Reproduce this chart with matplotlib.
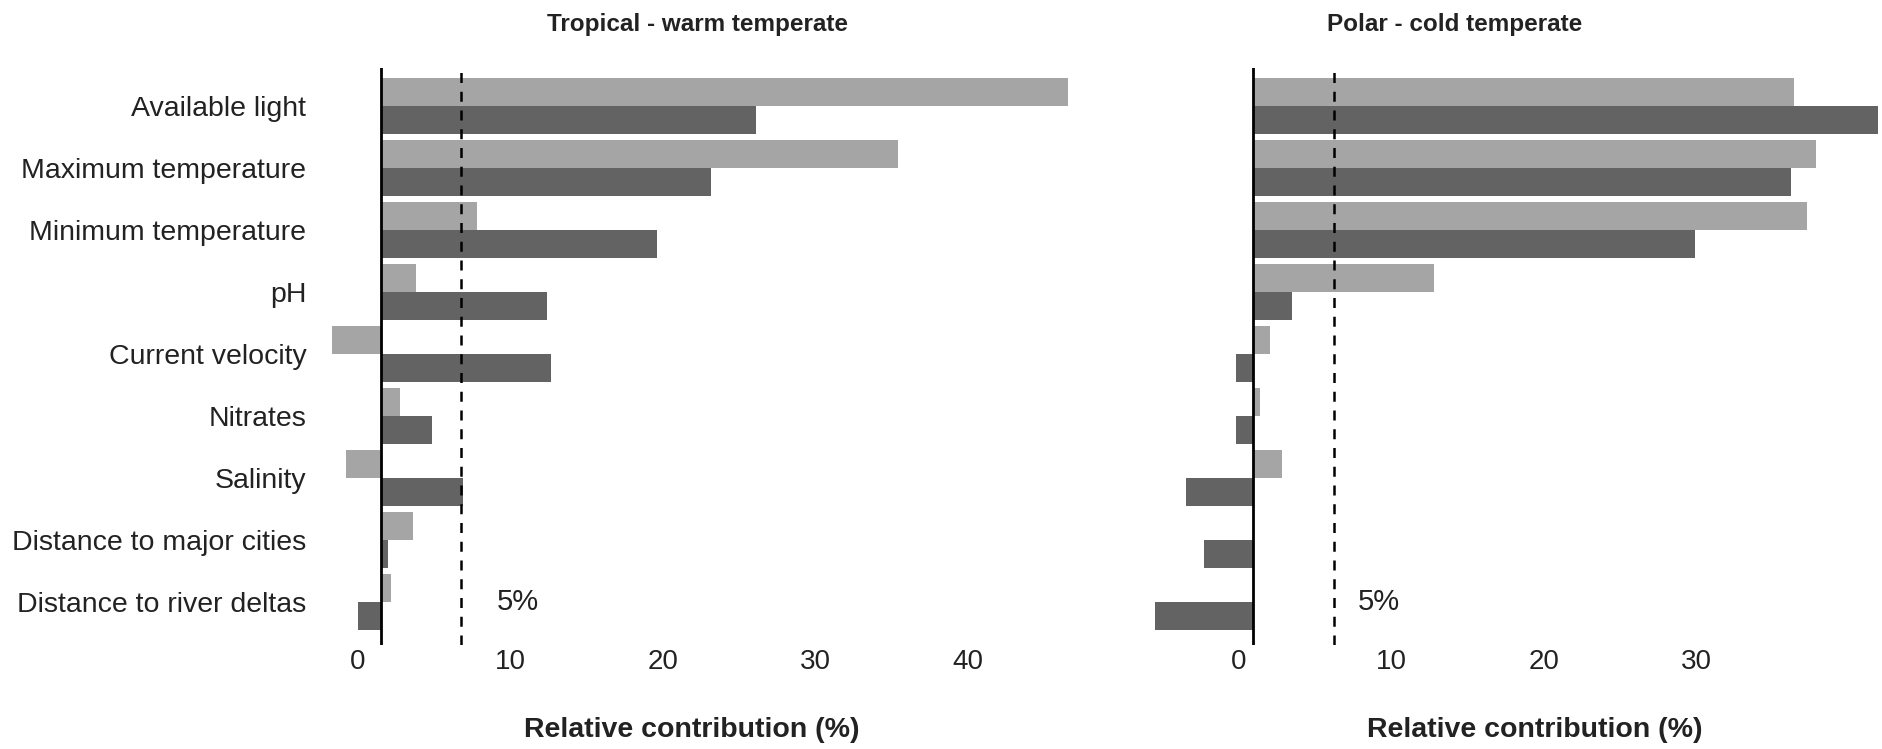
import matplotlib
matplotlib.use("Agg")
import matplotlib.pyplot as plt
import matplotlib.transforms as mtransforms
from matplotlib import font_manager
import numpy as np

plt.rcParams['font.family'] = ['Liberation Sans', 'DejaVu Sans']

# predictors, top to bottom
predictors = ["Available light", "Maximum temperature", "Minimum temperature", "pH",
              "Current velocity", "Nitrates", "Salinity",
              "Distance to major cities", "Distance to river deltas"]

# relative contribution (%) - light and dark bar of each pair
tropical_light = [45.1, 33.9, 6.3, 2.3, -3.2, 1.3, -2.3, 2.1, 0.7]
tropical_dark = [24.6, 21.7, 18.1, 10.9, 11.2, 3.4, 5.4, 0.5, -1.5]
polar_light = [35.5, 36.9, 36.3, 11.9, 1.1, 0.5, 1.9, 0.0, 0.0]
polar_dark = [41.0, 35.3, 29.0, 2.6, -1.1, -1.1, -4.4, -3.2, -6.4]

threshold = 5.3   # the "5%" dashed line as drawn
left_ticks = [0, 10, 20, 30, 40]
right_ticks = [0, 10, 20, 30]

LIGHT = "#a5a5a5"
DARK = "#636363"
W, H = 1883, 749

# titles are set in a condensed bold in the original
installed = {f.name for f in font_manager.fontManager.ttflist}
if "Liberation Sans Narrow" in installed:
    title_font, title_size = ["Liberation Sans Narrow", "Liberation Sans"], 20.5
else:
    title_font, title_size = ["Liberation Sans", "DejaVu Sans"], 17.5

fig = plt.figure(figsize=(W / 100, H / 100), dpi=100)

def px_axes(x0, x1, y0, y1):
    # pixel box (top-left origin) -> figure fraction
    return fig.add_axes([x0 / W, 1 - y1 / H, (x1 - x0) / W, (y1 - y0) / H])

ax1 = px_axes(312, 1082, 68, 645)
ax2 = px_axes(1149, 1883, 68, 645)

y = np.arange(len(predictors))
bh = 0.45

def draw(ax, light, dark, xlim, ticks, tick_shift, pct_x):
    ax.barh(y - bh / 2, light, height=bh, color=LIGHT, linewidth=0)
    ax.barh(y + bh / 2, dark, height=bh, color=DARK, linewidth=0)
    ax.axvline(0, color="black", lw=2.0)
    ax.axvline(threshold, color="black", lw=1.8, linestyle=(0, (4, 3.5)))
    ax.set_xlim(*xlim)
    ax.set_ylim(len(predictors) - 1 + 0.69, -0.61)
    for s in ax.spines.values():
        s.set_visible(False)
    ax.set_xticks(ticks)
    ax.set_xticklabels([str(t) for t in ticks], fontsize=20, color="#222222")
    ax.tick_params(axis="x", length=0, pad=3)
    # tick labels sit a little left of their true position in the original
    off = mtransforms.ScaledTranslation(tick_shift / 100, 0, fig.dpi_scale_trans)
    for lab in ax.get_xticklabels():
        lab.set_transform(lab.get_transform() + off)
    ax.text(pct_x, len(predictors) - 1, "5%", fontsize=21, color="#222222",
            va="center", ha="left")

draw(ax1, tropical_light, tropical_dark, (-4.5, 46), left_ticks, -23, 7.6)
ax1.set_yticks(y)
ax1.set_yticklabels(predictors, fontsize=20.5, color="#222222")
ax1.tick_params(axis="y", length=0, pad=4)

draw(ax2, polar_light, polar_dark, (-6.8, 41.3), right_ticks, -14, 6.9)
ax2.set_yticks([])

fig.text(698 / W, 1 - 24 / H, "Tropical - warm temperate", fontsize=title_size,
         family=title_font, fontweight="bold", ha="center", va="center", color="#222222")
fig.text(1455 / W, 1 - 24 / H, "Polar - cold temperate", fontsize=title_size,
         family=title_font, fontweight="bold", ha="center", va="center", color="#222222")
fig.text(692 / W, 1 - 730 / H, "Relative contribution (%)", fontsize=20.5,
         fontweight="bold", ha="center", va="center", color="#222222")
fig.text(1535 / W, 1 - 730 / H, "Relative contribution (%)", fontsize=20.5,
         fontweight="bold", ha="center", va="center", color="#222222")

fig.savefig("out.png", dpi=100)
